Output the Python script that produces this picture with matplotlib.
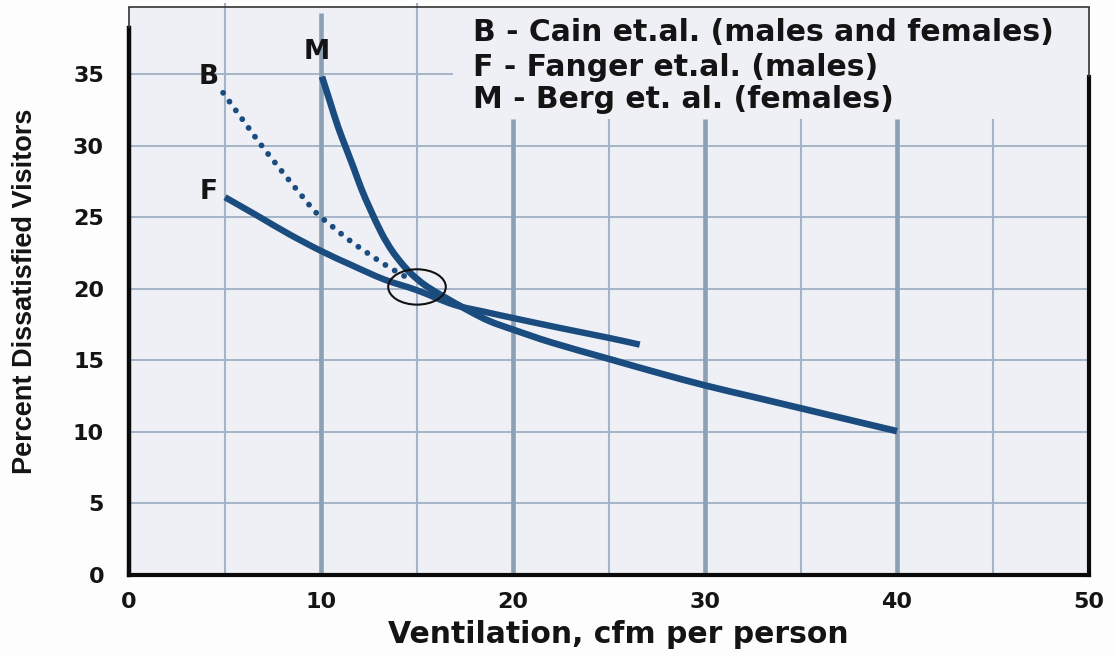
import matplotlib
matplotlib.use("Agg")
import matplotlib.pyplot as plt
from matplotlib.patches import Ellipse, PathPatch
from matplotlib.path import Path
from matplotlib import font_manager

# ---- data ----
# F - Fanger et.al. (males)
f_x = [5.0, 6.7, 8.3, 10.0, 11.6, 13.3, 15.0, 16.9, 18.5, 20.0, 22.5, 25.0, 26.6]
f_y = [26.4, 25.1, 23.85, 22.65, 21.65, 20.65, 19.9, 18.9, 18.4, 17.96, 17.25, 16.57, 16.1]

# M - Berg et. al. (females)
m_x = [10.05, 10.45, 10.88, 11.3, 11.7, 12.1, 12.55, 13.15, 13.68, 14.19, 14.7, 15.37, 16.2,
       17.75, 18.8, 20.0, 22.05, 25.0, 27.5, 30.0, 32.5, 35.0, 37.5, 40.0]
m_y = [34.83, 33.15, 31.35, 29.85, 28.45, 27.0, 25.6, 23.9, 22.7, 21.8, 21.05, 20.3, 19.6,
       18.43, 17.73, 17.15, 16.23, 15.1, 14.15, 13.25, 12.45, 11.65, 10.85, 10.05]

# B - Cain et.al. (males and females)
b_x = [4.9, 6.2, 7.2, 9.0, 9.76, 10.64, 11.57, 12.53, 13.55, 14.6]
b_y = [33.7, 31.3, 29.5, 26.5, 25.3, 24.3, 23.3, 22.4, 21.5, 20.7]

x_ticks = [0, 10, 20, 30, 40, 50]
y_ticks = [0, 5, 10, 15, 20, 25, 30, 35]

legend_lines = ["B - Cain et.al. (males and females)",
                "F - Fanger et.al. (males)",
                "M - Berg et. al. (females)"]

curve_color = "#1b4c80"
text_color = "#141414"

available = {f.name for f in font_manager.fontManager.ttflist}
main_font = "DejaVu Sans"
narrow_font = "Liberation Sans Narrow" if "Liberation Sans Narrow" in available else "Liberation Sans"


def smooth_path(xs, ys):
    """Smooth (Catmull-Rom style) Bezier path through the read points."""
    pts = list(zip(xs, ys))
    n = len(pts)
    verts = [pts[0]]
    codes = [Path.MOVETO]
    for i in range(n - 1):
        p0 = pts[i - 1] if i > 0 else pts[i]
        p1 = pts[i]
        p2 = pts[i + 1]
        p3 = pts[i + 2] if i + 2 < n else pts[i + 1]
        c1 = (p1[0] + (p2[0] - p0[0]) / 6.0, p1[1] + (p2[1] - p0[1]) / 6.0)
        c2 = (p2[0] - (p3[0] - p1[0]) / 6.0, p2[1] - (p3[1] - p1[1]) / 6.0)
        verts += [c1, c2, p2]
        codes += [Path.CURVE4] * 3
    return Path(verts, codes)


fig = plt.figure(figsize=(11.15, 6.56), dpi=100, facecolor="#fdfdfd")
ax = fig.add_axes([0.1157, 0.1235, 0.861, 0.8659])
ax.set_facecolor("#eef0f6")
ax.set_xlim(0, 50)
ax.set_ylim(0, 39.7)

# grid
thin_c = "#a4b4c6"
thick_c = "#8ca0b5"
for y in [5, 10, 15, 20, 25, 30]:
    ax.hlines(y, 0, 50, colors=thin_c, lw=1.4, zorder=1)
ax.hlines(35, 0, 16.9, colors=thin_c, lw=1.4, zorder=1)
for x in [5, 15]:
    ax.vlines(x, 0, 40.0, colors=thin_c, lw=1.5, zorder=1, clip_on=False)
ax.vlines(10, 0, 39.3, colors=thick_c, lw=3.3, zorder=1)
for x in [25, 35, 45]:
    ax.vlines(x, 0, 31.9, colors=thin_c, lw=1.5, zorder=1)
for x in [20, 30, 40]:
    ax.vlines(x, 0, 31.9, colors=thick_c, lw=3.3, zorder=1)

# curves
ax.add_patch(PathPatch(smooth_path(f_x, f_y), fill=False, ec=curve_color, lw=4.6,
                       capstyle="butt", joinstyle="round", zorder=3))
ax.add_patch(PathPatch(smooth_path(m_x, m_y), fill=False, ec=curve_color, lw=4.8,
                       capstyle="butt", joinstyle="round", zorder=3))
ax.add_patch(PathPatch(smooth_path(b_x, b_y), fill=False, ec=curve_color, lw=4.2,
                       linestyle=(0, (0.01, 1.85)), capstyle="round", zorder=3))

# circle
ax.add_patch(Ellipse((15.0, 20.13), 3.0, 2.47, fill=False, ec="#111111", lw=1.5, zorder=4))

# labels on curves
lab_kw = dict(fontsize=19, fontweight="bold", family=main_font, color=text_color,
              ha="center", va="center", zorder=5)
ax.text(4.16, 34.83, "B", **lab_kw)
ax.text(9.8, 36.55, "M", **lab_kw)
ax.text(4.16, 26.74, "F", **lab_kw)

# legend text
for line, yy in zip(legend_lines, [37.9, 35.45, 33.2]):
    ax.text(17.9, yy, line, fontsize=21.5, fontweight="bold", family=main_font,
            color=text_color, ha="left", va="center", zorder=5)

# ticks
ax.set_xticks(x_ticks)
ax.set_yticks(y_ticks)
ax.set_xticklabels([str(v) for v in x_ticks], fontsize=16, fontweight="bold", family=main_font)
ax.set_yticklabels([str(v) for v in y_ticks], fontsize=16, fontweight="bold", family=main_font)
ax.tick_params(axis="both", length=0, colors=text_color)
ax.tick_params(axis="x", pad=12)
ax.tick_params(axis="y", pad=18)

ax.set_xlabel("Ventilation, cfm per person", fontsize=21.5, fontweight="bold",
              family=main_font, color=text_color)
ax.xaxis.set_label_coords(0.51, -0.08)
ax.set_ylabel("Percent Dissatisfied Visitors", fontsize=19.5, fontweight="bold",
              family=narrow_font, color=text_color)
ax.yaxis.set_label_coords(-0.0948, 0.5)

# spines: thick lower parts, thin upper parts
ax.spines["bottom"].set_linewidth(3)
ax.spines["bottom"].set_color("#0a0a0a")
ax.spines["left"].set_linewidth(3.2)
ax.spines["left"].set_color("#0a0a0a")
ax.spines["left"].set_bounds(0, 38.2)
ax.vlines(0, 38.2, 39.7, colors="#333333", lw=1.2, clip_on=False, zorder=5)
ax.spines["right"].set_linewidth(3)
ax.spines["right"].set_color("#0a0a0a")
ax.spines["right"].set_bounds(0, 34.8)
ax.vlines(50, 34.8, 39.7, colors="#333333", lw=1.2, clip_on=False, zorder=5)
ax.spines["top"].set_linewidth(1.2)
ax.spines["top"].set_color("#333333")

fig.savefig("out.png", dpi=100, facecolor=fig.get_facecolor())
